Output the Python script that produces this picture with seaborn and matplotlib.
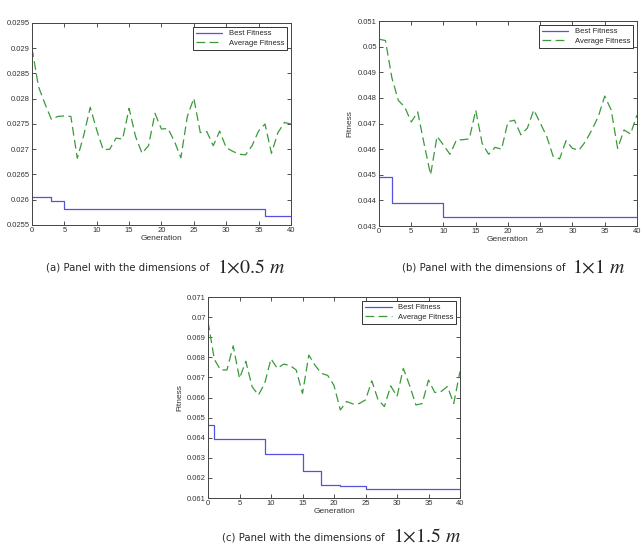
import matplotlib
matplotlib.use('Agg')
import matplotlib.pyplot as plt
import seaborn as sns
from matplotlib.ticker import FuncFormatter, MultipleLocator

# generations 0..40
generations = list(range(41))

# panel (a) 1 x 0.5 m
best_a = [0.02605] * 3 + [0.02597] * 2 + [0.02581] * 31 + [0.02567] * 5
avg_a = [0.0290, 0.02824, 0.0279, 0.02759, 0.02765, 0.02766, 0.02765, 0.02682, 0.02728, 0.02783,
         0.02738, 0.02699, 0.0270, 0.02722, 0.0272, 0.02781, 0.02725, 0.02692, 0.02707, 0.02771,
         0.0274, 0.02741, 0.02716, 0.02683, 0.02765, 0.02801, 0.02733, 0.02735, 0.02707, 0.02736,
         0.02703, 0.02696, 0.0269, 0.02689, 0.02707, 0.02736, 0.0275, 0.02692, 0.02733, 0.02753,
         0.0275]

# panel (b) 1 x 1 m
best_b = [0.04492] * 2 + [0.04391] * 8 + [0.04335] * 31
avg_b = [0.05029, 0.05024, 0.04878, 0.0479, 0.04764, 0.04706, 0.04745, 0.0462, 0.0450, 0.0465,
         0.04616, 0.0458, 0.04635, 0.04637, 0.0464, 0.04752, 0.04622, 0.0458, 0.04607, 0.0460,
         0.04707, 0.04713, 0.04656, 0.04682, 0.04753, 0.04702, 0.0465, 0.04572, 0.04562, 0.04633,
         0.04603, 0.04596, 0.04629, 0.04675, 0.04727, 0.04807, 0.04753, 0.04603, 0.04675, 0.04659,
         0.04733]

# panel (c) 1 x 1.5 m
best_c = [0.06462] + [0.06396] * 8 + [0.06317] * 6 + [0.06236] * 3 + [0.06165] * 3 + [0.0616] * 4 + [0.06146] * 16
avg_c = [0.06978, 0.0679, 0.06737, 0.06737, 0.06857, 0.06695, 0.0678, 0.06654, 0.06612, 0.0667,
         0.06793, 0.06745, 0.06766, 0.0676, 0.06737, 0.0662, 0.06811, 0.0676, 0.0672, 0.0671,
         0.0666, 0.06538, 0.0658, 0.06568, 0.0657, 0.06588, 0.06683, 0.06588, 0.06555, 0.06658,
         0.06605, 0.06745, 0.0666, 0.06563, 0.0657, 0.06687, 0.06625, 0.0663, 0.06655, 0.0657,
         0.0673]

sns.set_style('white')
plt.rcParams['font.family'] = ['Liberation Sans', 'DejaVu Sans']
plt.rcParams['mathtext.fontset'] = 'stix'

blue = '#5252de'
green = '#3a9a3a'


def draw_panel(ax, best, avg, ylim, ystep, ylabel):
    sns.lineplot(x=generations, y=best, ax=ax, color=blue, linewidth=0.9,
                 drawstyle='steps-post', label='Best Fitness')
    sns.lineplot(x=generations, y=avg, ax=ax, color=green, linewidth=0.9,
                 linestyle=(0, (7, 3.5)), label='Average Fitness')
    ax.set_xlim(0, 40)
    ax.set_ylim(*ylim)
    ax.xaxis.set_major_locator(MultipleLocator(5))
    ax.yaxis.set_major_locator(MultipleLocator(ystep))
    ax.yaxis.set_major_formatter(FuncFormatter(lambda v, p: '%g' % round(v, 6)))
    ax.tick_params(direction='in', length=3, width=0.6, labelsize=5.5, colors='#333333',
                   top=True, right=True, bottom=True, left=True, pad=1.5)
    for s in ax.spines.values():
        s.set_linewidth(0.7)
        s.set_color('#444444')
    ax.set_xlabel('Generation', fontsize=6, labelpad=1, color='#333333')
    ax.set_ylabel(ylabel, fontsize=6, labelpad=3, color='#333333')
    leg = ax.legend(loc='upper right', fontsize=5.5, fancybox=False, framealpha=1,
                    edgecolor='#333333', borderpad=0.4, handlelength=3.5, labelspacing=0.3,
                    borderaxespad=0.5)
    leg.get_frame().set_linewidth(0.7)


fig = plt.figure(figsize=(6.44, 5.45), dpi=100)

ax_a = fig.add_axes([0.0497, 0.5872, 0.402, 0.3706])
draw_panel(ax_a, best_a, avg_a, (0.0255, 0.0295), 0.0005, '')

ax_b = fig.add_axes([0.5885, 0.5853, 0.4006, 0.3761])
draw_panel(ax_b, best_b, avg_b, (0.043, 0.051), 0.001, 'Fitness')

ax_c = fig.add_axes([0.323, 0.0862, 0.3913, 0.3688])
draw_panel(ax_c, best_c, avg_c, (0.061, 0.071), 0.001, 'Fitness')

# captions: sans description followed by serif math dimensions
cap_font = ['DejaVu Sans']
captions = [
    ('(a) Panel with the dimensions of', r'$1{\times}0.5\ m$', 46, 217, 268),
    ('(b) Panel with the dimensions of', r'$1{\times}1\ m$', 402, 572, 268),
    ('(c) Panel with the dimensions of', r'$1{\times}1.5\ m$', 222, 393, 537),
]
for desc, dims, x_desc, x_dims, y in captions:
    fig.text(x_desc / 644, 1 - y / 545, desc, fontsize=7.3, family=cap_font,
             va='center', ha='left')
    fig.text(x_dims / 644, 1 - (y - 1) / 545, dims, fontsize=14.3, va='center', ha='left')

fig.savefig('out.png', dpi=100)
